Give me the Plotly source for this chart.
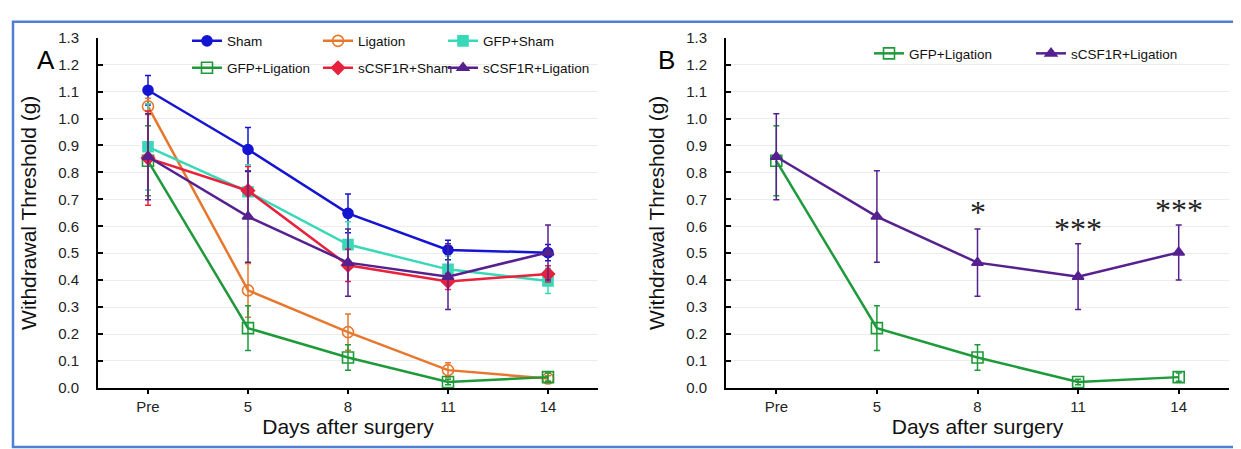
import plotly.graph_objects as go

days = ["Pre", "5", "8", "11", "14"]
y_ticks = [0.0, 0.1, 0.2, 0.3, 0.4, 0.5, 0.6, 0.7, 0.8, 0.9, 1.0, 1.1, 1.2, 1.3]

sham = [1.105, 0.885, 0.648, 0.512, 0.502]
sham_err = [0.055, 0.082, 0.072, 0.036, 0.03]
ligation = [1.045, 0.362, 0.207, 0.066, 0.035]
ligation_err = [0.03, 0.10, 0.067, 0.027, 0.01]
gfp_sham = [0.895, 0.728, 0.532, 0.44, 0.397]
gfp_sham_err = [0.16, 0.10, 0.085, 0.05, 0.047]
gfp_lig = [0.843, 0.222, 0.113, 0.022, 0.040]
gfp_lig_err = [0.13, 0.083, 0.047, 0.01, 0.015]
scsf_sham = [0.853, 0.732, 0.455, 0.395, 0.423]
scsf_sham_err = [0.175, 0.09, 0.06, 0.03, 0.03]
scsf_lig = [0.858, 0.636, 0.465, 0.413, 0.503]
scsf_lig_err = [0.16, 0.17, 0.125, 0.122, 0.102]

sig_days = ["8", "11", "14"]
sig_labels = ["*", "***", "***"]
sig_y = [0.639, 0.575, 0.646]

C_SHAM = "#1414D2"
C_LIG = "#E8772E"
C_GS = "#38D9B8"
C_GL = "#1F9A3A"
C_SS = "#E8213C"
C_SL = "#56218F"

FONT = "Liberation Sans, Arial, sans-serif"

# (name, values, errors, colour, symbol, legend id, legend text x px, legend y px)
series_A = [
    ("Sham", sham, sham_err, C_SHAM, "circle", "legend", 227, 40),
    ("Ligation", ligation, ligation_err, C_LIG, "circle-open", "legend2", 358, 40),
    ("GFP+Sham", gfp_sham, gfp_sham_err, C_GS, "square", "legend3", 483, 40),
    ("GFP+Ligation", gfp_lig, gfp_lig_err, C_GL, "square-open", "legend4", 227, 68),
    ("sCSF1R+Sham", scsf_sham, scsf_sham_err, C_SS, "diamond", "legend5", 358, 68),
    ("sCSF1R+Ligation", scsf_lig, scsf_lig_err, C_SL, "triangle-up", "legend6", 483, 68),
]
series_B = [
    ("GFP+Ligation", gfp_lig, gfp_lig_err, C_GL, "square-open", "legend7", 909, 53),
    ("sCSF1R+Ligation", scsf_lig, scsf_lig_err, C_SL, "triangle-up", "legend8", 1071, 53),
]

fig = go.Figure()
legends = {}

def add(name, ys, err, color, sym, xa, ya, leg, tx, ty):
    fig.add_trace(go.Scatter(
        x=days, y=ys, name=name, mode="lines+markers",
        line=dict(color=color, width=2.5),
        marker=dict(symbol=sym, size=11 if "open" in sym else 10, color=color,
                    line=dict(color=color, width=1.6)),
        error_y=dict(type="data", array=err, visible=True, color=color,
                     thickness=1.5, width=3),
        xaxis=xa, yaxis=ya, legend=leg,
    ))
    legends[leg] = dict(x=(tx - 48) / 1241, y=1 - (ty - 15) / 449, xanchor="left",
                        yanchor="middle", orientation="h", bgcolor="rgba(0,0,0,0)",
                        font=dict(family=FONT, size=13.5, color="#111"), itemwidth=30)

for name, ys, err, color, sym, leg, tx, ty in series_A:
    add(name, ys, err, color, sym, "x", "y", leg, tx, ty)
for name, ys, err, color, sym, leg, tx, ty in series_B:
    add(name, ys, err, color, sym, "x2", "y2", leg, tx, ty)

for d, lab, yv in zip(sig_days, sig_labels, sig_y):
    fig.add_annotation(x=days.index(d), y=yv, xref="x2", yref="y2", text=lab, showarrow=False,
                       yshift=4, font=dict(family="Liberation Serif", size=32, color="#222"))

ydom = [1 - 385.5 / 449, 1 - 21.5 / 449]

xax = dict(type="category", categoryorder="array", categoryarray=days,
           range=[-0.5, 4.5], showline=True, linecolor="black", linewidth=2,
           ticks="outside", ticklen=4, tickwidth=1.5, tickcolor="black",
           showgrid=False, zeroline=False,
           tickfont=dict(family=FONT, size=15, color="#222"),
           title=dict(text="Days after surgery", font=dict(family=FONT, size=21, color="#111"), standoff=4))
yax = dict(range=[0, 1.3], tickvals=y_ticks, tickformat=".1f", showline=True,
           linecolor="black", linewidth=2, ticks="inside", ticklen=5, tickwidth=1.5,
           tickcolor="black", showgrid=True, gridcolor="#ececec", gridwidth=1,
           zeroline=False, tickfont=dict(family=FONT, size=15, color="#222"),
           ticklabelstandoff=14,
           title=dict(text="Withdrawal Threshold (g)", font=dict(family=FONT, size=21, color="#111"), standoff=16))

fig.update_layout(
    width=1241, height=449,
    margin=dict(l=0, r=0, t=0, b=0),
    paper_bgcolor="white", plot_bgcolor="white",
    xaxis=dict(xax, domain=[90 / 1241, 590 / 1241], anchor="y"),
    yaxis=dict(yax, domain=ydom, anchor="x"),
    xaxis2=dict(xax, domain=[718 / 1241, 1221 / 1241], anchor="y2"),
    yaxis2=dict(yax, domain=ydom, anchor="x2"),
    showlegend=True,
    **legends,
)

fig.add_annotation(x=27 / 1241, y=1 - 27 / 449, xref="paper", yref="paper", text="A",
                   showarrow=False, font=dict(family=FONT, size=26, color="black"))
fig.add_annotation(x=658 / 1241, y=1 - 27 / 449, xref="paper", yref="paper", text="B",
                   showarrow=False, font=dict(family=FONT, size=26, color="black"))

fig.add_shape(type="rect", xref="paper", yref="paper", x0=5 / 1241, x1=1236 / 1241,
              y0=1 - 447 / 449, y1=1 - 5 / 449, line=dict(color="#4F7FD0", width=2.5))

fig.write_html("out.html")
